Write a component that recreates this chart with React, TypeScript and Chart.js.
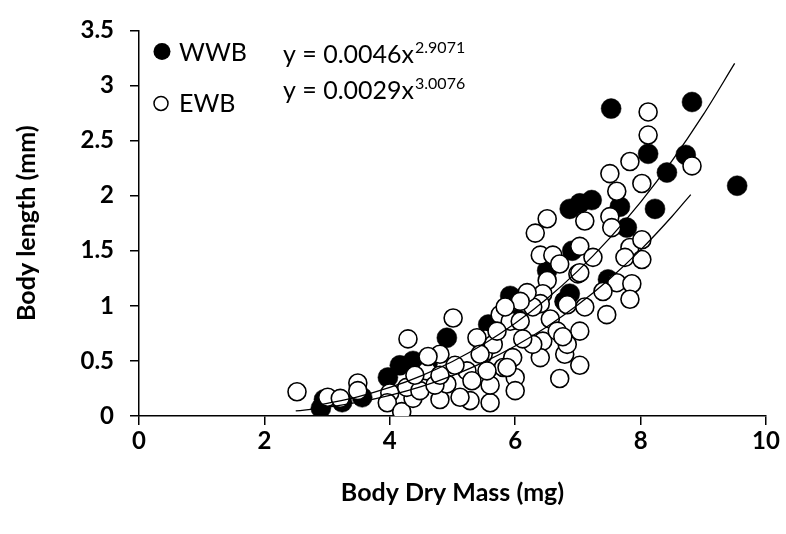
import React, { useEffect, useRef } from "react";
import { Chart, registerables } from "chart.js";

Chart.register(...registerables);

// ---- Data ----
const seriesNames = ["WWB", "EWB"];

// WWB (filled black circles)
const wwbX = [2.9, 2.95, 3.24, 3.56, 3.97, 4.16, 4.37, 4.6, 4.91, 5.57, 5.92, 6.03, 6.51, 6.79, 6.87, 6.91, 6.87, 7.03, 7.22, 7.53, 7.48, 7.67, 7.78, 8.12, 8.23, 8.42, 8.72, 8.82, 9.54, 6.79];
const wwbY = [0.07, 0.15, 0.125, 0.17, 0.35, 0.46, 0.5, 0.47, 0.71, 0.83, 1.09, 0.88, 1.32, 1.04, 1.11, 1.5, 1.88, 1.93, 1.96, 2.79, 1.24, 1.9, 1.71, 2.38, 1.88, 2.21, 2.37, 2.85, 2.09, 1.04];

// EWB (open circles)
const ewbX = [2.52, 3.01, 3.21, 3.49, 3.49, 4.0, 3.96, 4.19, 4.29, 5.01, 4.8, 4.37, 4.8, 4.91, 5.28, 5.6, 5.6, 5.76, 5.92, 5.52, 5.49, 5.96, 6.0, 6.0, 5.23, 4.59, 4.27, 4.48, 5.12, 5.31, 5.65, 5.81, 6.51, 6.32, 7.11, 6.4, 6.6, 6.71, 7.03, 7.0, 6.51, 6.44, 6.83, 7.11, 6.56, 7.03, 6.44, 6.79, 7.03, 6.71, 6.4, 5.71, 5.39, 5.44, 5.55, 5.87, 6.4, 6.67, 6.83, 6.08, 6.28, 7.46, 6.76, 6.28, 6.12, 7.51, 7.54, 7.83, 8.02, 7.75, 8.02, 7.62, 7.86, 7.83, 8.12, 8.12, 7.83, 8.82, 7.51, 7.62, 8.02, 7.03, 7.4, 7.24, 6.19, 6.08, 5.84, 4.61, 4.4, 4.72, 5.04, 4.8];
const ewbY = [0.22, 0.17, 0.16, 0.3, 0.23, 0.21, 0.12, 0.04, 0.7, 0.89, 0.56, 0.16, 0.15, 0.29, 0.14, 0.12, 0.28, 0.92, 0.86, 0.7, 0.56, 0.53, 0.35, 0.23, 0.41, 0.41, 0.26, 0.23, 0.17, 0.32, 0.65, 0.44, 1.79, 1.66, 1.77, 1.46, 1.46, 1.38, 1.54, 1.29, 1.23, 1.11, 1.01, 0.99, 0.88, 0.77, 0.68, 0.56, 0.46, 0.34, 0.53, 0.77, 0.71, 0.56, 0.41, 0.44, 1.02, 0.77, 0.65, 0.86, 0.99, 0.92, 0.72, 0.65, 0.7, 1.81, 1.71, 1.53, 1.6, 1.44, 1.42, 1.21, 1.2, 1.06, 2.76, 2.55, 2.31, 2.27, 2.2, 2.04, 2.11, 1.3, 1.13, 1.44, 1.12, 1.04, 0.99, 0.54, 0.37, 0.28, 0.46, 0.37];

// Power trend lines
const trendWwbX = [2.9, 3.5, 4, 4.5, 5, 5.5, 6, 6.5, 7, 7.5, 8, 8.5, 9, 9.5];
const trendWwbY = [0.102, 0.176, 0.259, 0.365, 0.495, 0.653, 0.841, 1.062, 1.317, 1.61, 1.942, 2.316, 2.735, 3.2];
const trendEwbX = [2.5, 3, 3.5, 4, 4.5, 5, 5.5, 6, 6.5, 7, 7.5, 8, 8.5, 8.8];
const trendEwbY = [0.046, 0.079, 0.126, 0.188, 0.267, 0.367, 0.489, 0.635, 0.808, 1.009, 1.242, 1.508, 1.811, 2.01];

const equationMain = ["y = 0.0046x", "y = 0.0029x"];
const equationExp = ["2.9071", "3.0076"];

const xTitle = "Body Dry Mass (mg)";
const yTitle = "Body length (mm)";

const FONT = "Lato, 'Open Sans', 'DejaVu Sans', sans-serif";

const toPoints = (xs: number[], ys: number[]) => xs.map((x, i) => ({ x, y: ys[i] }));

const overlayPlugin = {
  id: "overlayText",
  afterDraw(chart: any) {
    const ctx = chart.ctx as CanvasRenderingContext2D;
    const a = chart.chartArea;
    ctx.save();
    // legend markers
    ctx.lineWidth = 1.5;
    ctx.strokeStyle = "#000";
    ctx.fillStyle = "#000";
    ctx.beginPath();
    ctx.arc(a.left + 23, a.top + 21, 8.5, 0, Math.PI * 2);
    ctx.fill();
    ctx.beginPath();
    ctx.arc(a.left + 22, a.top + 73, 7, 0, Math.PI * 2);
    ctx.fillStyle = "#fff";
    ctx.fill();
    ctx.stroke();
    // legend text
    ctx.fillStyle = "#000";
    ctx.textAlign = "left";
    ctx.textBaseline = "alphabetic";
    ctx.font = `25px ${FONT}`;
    ctx.fillText(seriesNames[0], a.left + 40, a.top + 31);
    ctx.fillText(seriesNames[1], a.left + 40, a.top + 82);
    // equations
    const baselines = [a.top + 33, a.top + 69];
    for (let i = 0; i < 2; i++) {
      ctx.font = `25px ${FONT}`;
      const x0 = a.left + 144;
      ctx.fillText(equationMain[i], x0, baselines[i]);
      const w = ctx.measureText(equationMain[i]).width;
      ctx.font = `16px ${FONT}`;
      ctx.fillText(equationExp[i], x0 + w + 1, baselines[i] - 10);
    }
    ctx.restore();
  },
};

export default function App() {
  const canvasRef = useRef<HTMLCanvasElement | null>(null);

  useEffect(() => {
    document.body.style.margin = "0";
    const canvas = canvasRef.current;
    if (!canvas) return;
    const tickFont = { family: FONT, size: 24, weight: "bold" as const };
    const titleFont = { family: FONT, size: 25, weight: "bold" as const };
    const chart = new Chart(canvas, {
      type: "scatter",
      data: {
        datasets: [
          {
            label: "WWB trend",
            data: toPoints(trendWwbX, trendWwbY),
            showLine: true,
            borderColor: "#000",
            borderWidth: 1.3,
            pointRadius: 0,
            cubicInterpolationMode: "monotone",
            order: 0,
          } as any,
          {
            label: "EWB trend",
            data: toPoints(trendEwbX, trendEwbY),
            showLine: true,
            borderColor: "#000",
            borderWidth: 1.3,
            pointRadius: 0,
            cubicInterpolationMode: "monotone",
            order: 0,
          } as any,
          {
            label: seriesNames[1],
            data: toPoints(ewbX, ewbY),
            pointRadius: 9,
            pointBackgroundColor: "#fff",
            pointBorderColor: "#000",
            pointBorderWidth: 1.6,
            showLine: false,
            order: 1,
          },
          {
            label: seriesNames[0],
            data: toPoints(wwbX, wwbY),
            pointRadius: 10,
            pointBackgroundColor: "#000",
            pointBorderColor: "#000",
            pointBorderWidth: 0.5,
            showLine: false,
            order: 2,
          },
        ],
      },
      options: {
        animation: false,
        responsive: false,
        maintainAspectRatio: false,
        layout: { padding: { left: 8, right: 20, top: 24, bottom: 20 } },
        plugins: {
          legend: { display: false },
          tooltip: { enabled: false },
        },
        scales: {
          x: {
            type: "linear",
            min: 0,
            max: 10,
            ticks: { stepSize: 2, color: "#000", font: tickFont, padding: 2, callback: (v: any) => `${v}` },
            grid: { drawOnChartArea: false, drawTicks: true, tickLength: 9, color: "#000", lineWidth: 1.5 },
            border: { display: true, color: "#000", width: 1.5 },
            title: {
              display: true,
              text: xTitle,
              color: "#000",
              font: titleFont,
              padding: { top: 0, bottom: 6 },
            },
            afterFit: (scale: any) => {
              scale.height = 534 - 416 - 20;
            },
          },
          y: {
            type: "linear",
            min: 0,
            max: 3.5,
            ticks: { stepSize: 0.5, color: "#000", font: tickFont, padding: 16, callback: (v: any) => `${v}` },
            grid: { drawOnChartArea: false, drawTicks: true, tickLength: 9, color: "#000", lineWidth: 1.5 },
            border: { display: true, color: "#000", width: 1.5 },
            title: {
              display: true,
              text: yTitle,
              color: "#000",
              font: titleFont,
              padding: { top: 4, bottom: 0 },
            },
            afterFit: (scale: any) => {
              scale.width = 139 - 8;
            },
          },
        },
      },
      plugins: [overlayPlugin],
    });
    return () => chart.destroy();
  }, []);

  return (
    <div style={{ width: 786, height: 534, background: "#fff" }}>
      <canvas ref={canvasRef} width={786} height={534} />
    </div>
  );
}
